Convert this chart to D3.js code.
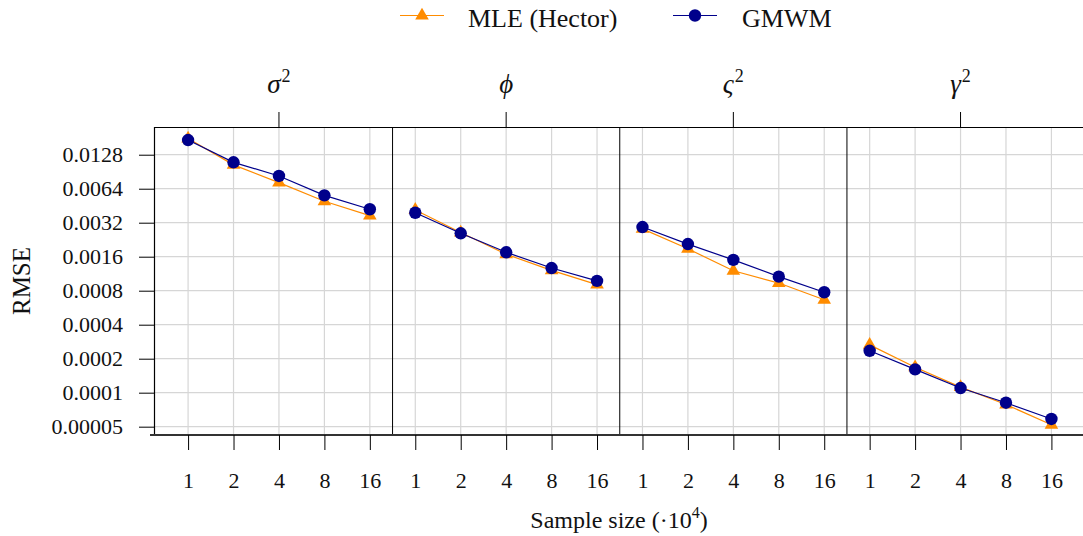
<!DOCTYPE html>
<html>
<head>
<meta charset="utf-8">
<script src="https://cdn.jsdelivr.net/npm/d3@7"></script>
<style>
  html, body { margin: 0; padding: 0; background: #fff; }
  svg { display: block; font-family: "Liberation Serif", "Times New Roman", serif; }
</style>
</head>
<body>
<svg id="chart" width="1083" height="536"></svg>
<script>
// Sample sizes (in units of 10^4) shared by every panel
const sampleSizes = [1, 2, 4, 8, 16];

// Panel titles: symbol and exponent
const paramSymbols = ["σ", "ϕ", "ς", "γ"];
const paramExponents = ["2", "", "2", "2"];

// RMSE of the MLE (Hector) estimates per panel
const mleSigma2   = [0.0178, 0.0104, 0.00725, 0.00495, 0.00370];
const mlePhi      = [0.00415, 0.00262, 0.00168, 0.00121, 0.000905];
const mleVarsigma2 = [0.00282, 0.00188, 0.00120, 0.000935, 0.000665];
const mleGamma2   = [0.000265, 0.000168, 0.000112, 0.0000785, 0.0000520];

// RMSE of the GMWM estimates per panel
const gmwmSigma2   = [0.01727, 0.01096, 0.00830, 0.00559, 0.00421];
const gmwmPhi      = [0.00392, 0.00258, 0.00175, 0.00127, 0.000977];
const gmwmVarsigma2 = [0.00293, 0.00207, 0.00150, 0.001065, 0.000775];
const gmwmGamma2   = [0.000235, 0.000161, 0.000110, 0.0000815, 0.0000585];

// Y-axis ticks (log base 2) and their labels
const yTickValues = [0.00005, 0.0001, 0.0002, 0.0004, 0.0008, 0.0016, 0.0032, 0.0064, 0.0128];
const yTickLabels = ["0.00005", "0.0001", "0.0002", "0.0004", "0.0008", "0.0016", "0.0032", "0.0064", "0.0128"];
const yDomain = [0.0000422, 0.02252];

const series = [
  { name: "MLE (Hector)", color: "#FF8C00", symbol: "triangle",
    values: [mleSigma2, mlePhi, mleVarsigma2, mleGamma2] },
  { name: "GMWM", color: "#00008B", symbol: "circle",
    values: [gmwmSigma2, gmwmPhi, gmwmVarsigma2, gmwmGamma2] }
];

const svg = d3.select("#chart");

const plotLeft = 154, plotRight = 1085.5, plotTop = 127, plotBottom = 435;

// One categorical position per (panel, sample size)
const keys = [];
paramSymbols.forEach((p, pi) => sampleSizes.forEach((s, si) => keys.push(pi + "-" + si)));

const x = d3.scalePoint().domain(keys).range([plotLeft, plotRight]).padding(0.75);
const y = d3.scaleLog().base(2).domain(yDomain).range([plotBottom, plotTop]);

const gridColor = "#d6d6d6";

// Horizontal grid
svg.append("g")
  .selectAll("line")
  .data(yTickValues)
  .join("line")
  .attr("x1", plotLeft).attr("x2", plotRight)
  .attr("y1", d => y(d)).attr("y2", d => y(d))
  .attr("stroke", gridColor).attr("stroke-width", 1.3);

// Vertical grid
svg.append("g")
  .selectAll("line")
  .data(keys)
  .join("line")
  .attr("x1", d => x(d)).attr("x2", d => x(d))
  .attr("y1", plotTop).attr("y2", plotBottom)
  .attr("stroke", gridColor).attr("stroke-width", 1.2);

// Frame: top, left and panel dividers
const frame = svg.append("g").attr("stroke", "#000").attr("fill", "none");
frame.append("line").attr("x1", plotLeft).attr("x2", plotRight).attr("y1", plotTop + 0.5).attr("y2", plotTop + 0.5).attr("stroke-width", 1);
frame.append("line").attr("x1", plotLeft + 0.5).attr("x2", plotLeft + 0.5).attr("y1", plotTop).attr("y2", plotBottom).attr("stroke-width", 1.2);
const dividers = d3.range(1, paramSymbols.length).map(i => (x(i - 1 + "-4") + x(i + "-0")) / 2);
frame.selectAll("line.div")
  .data(dividers)
  .join("line")
  .attr("class", "div")
  .attr("x1", d => d).attr("x2", d => d)
  .attr("y1", plotTop).attr("y2", plotBottom)
  .attr("stroke-width", 1);

// Bottom axis line
svg.append("line")
  .attr("x1", plotLeft - 4).attr("x2", plotRight)
  .attr("y1", plotBottom).attr("y2", plotBottom)
  .attr("stroke", "#333").attr("stroke-width", 1.8);

// X axis (ticks + labels)
const xAxis = d3.axisBottom(x)
  .tickSizeInner(15).tickSizeOuter(0).tickPadding(22)
  .tickFormat(k => sampleSizes[+k.split("-")[1]]);
const gx = svg.append("g").attr("transform", `translate(0,${plotBottom})`).call(xAxis);
gx.select(".domain").remove();
gx.selectAll(".tick line").attr("stroke", "#000").attr("stroke-width", 1);
gx.selectAll(".tick text").attr("font-size", 22).attr("font-family", "Liberation Serif").attr("fill", "#111");

// Y axis (ticks + labels)
const yAxis = d3.axisLeft(y)
  .tickValues(yTickValues)
  .tickSizeInner(15).tickSizeOuter(0).tickPadding(16)
  .tickFormat((d, i) => yTickLabels[i]);
const gy = svg.append("g").attr("transform", `translate(${plotLeft},0)`).call(yAxis);
gy.select(".domain").remove();
gy.selectAll(".tick line").attr("stroke", "#000").attr("stroke-width", 1);
gy.selectAll(".tick text").attr("font-size", 22).attr("font-family", "Liberation Serif").attr("fill", "#111");

// Top ticks and panel titles
const centers = paramSymbols.map((p, i) => x(i + "-2"));
svg.append("g")
  .selectAll("line")
  .data(centers)
  .join("line")
  .attr("x1", d => d).attr("x2", d => d)
  .attr("y1", plotTop - 15).attr("y2", plotTop)
  .attr("stroke", "#000").attr("stroke-width", 1);

const titles = svg.append("g")
  .selectAll("text")
  .data(paramSymbols)
  .join("text")
  .attr("x", (d, i) => centers[i])
  .attr("y", 93)
  .attr("text-anchor", "middle")
  .attr("fill", "#111");
titles.append("tspan")
  .attr("font-style", "italic")
  .attr("font-size", 27)
  .text(d => d);
titles.append("tspan")
  .attr("font-size", 18)
  .attr("dy", -11)
  .attr("dx", 1)
  .text((d, i) => paramExponents[i]);

// Series lines and markers
const line = d3.line().x(d => d[0]).y(d => d[1]);
const triangle = d3.symbol().type(d3.symbolTriangle).size(80);

series.forEach(s => {
  const g = svg.append("g");
  s.values.forEach((vals, pi) => {
    const pts = vals.map((v, si) => [x(pi + "-" + si), y(v)]);
    g.append("path")
      .attr("d", line(pts))
      .attr("fill", "none")
      .attr("stroke", s.color)
      .attr("stroke-width", 1.2);
    if (s.symbol === "circle") {
      g.selectAll(null).data(pts).join("circle")
        .attr("cx", d => d[0]).attr("cy", d => d[1]).attr("r", 6.2)
        .attr("fill", s.color);
    } else {
      g.selectAll(null).data(pts).join("path")
        .attr("d", triangle)
        .attr("transform", d => `translate(${d[0]},${d[1]})`)
        .attr("fill", s.color);
    }
  });
});

// Legend
const legendItems = [
  { x0: 400, tx: 468 },
  { x0: 673, tx: 742 }
];
const legend = svg.append("g");
series.forEach((s, i) => {
  const it = legendItems[i];
  const g = legend.append("g");
  g.append("line")
    .attr("x1", it.x0).attr("x2", it.x0 + 44)
    .attr("y1", 15.5).attr("y2", 15.5)
    .attr("stroke", s.color).attr("stroke-width", 1.2);
  if (s.symbol === "circle") {
    g.append("circle").attr("cx", it.x0 + 22).attr("cy", 15.5).attr("r", 6.2).attr("fill", s.color);
  } else {
    g.append("path").attr("d", triangle()).attr("transform", `translate(${it.x0 + 22},15.5)`).attr("fill", s.color);
  }
  g.append("text")
    .attr("x", it.tx).attr("y", 27)
    .attr("font-size", 26)
    .attr("fill", "#111")
    .text(s.name);
});

// Axis titles
svg.append("text")
  .attr("transform", "translate(30,281) rotate(-90)")
  .attr("text-anchor", "middle")
  .attr("font-size", 25)
  .attr("fill", "#111")
  .text("RMSE");

const xt = svg.append("text")
  .attr("x", 619).attr("y", 528)
  .attr("text-anchor", "middle")
  .attr("font-size", 24)
  .attr("fill", "#111");
xt.append("tspan").text("Sample size (·10");
xt.append("tspan").attr("font-size", 16).attr("dy", -10).text("4");
xt.append("tspan").attr("dy", 10).text(")");
</script>
</body>
</html>
